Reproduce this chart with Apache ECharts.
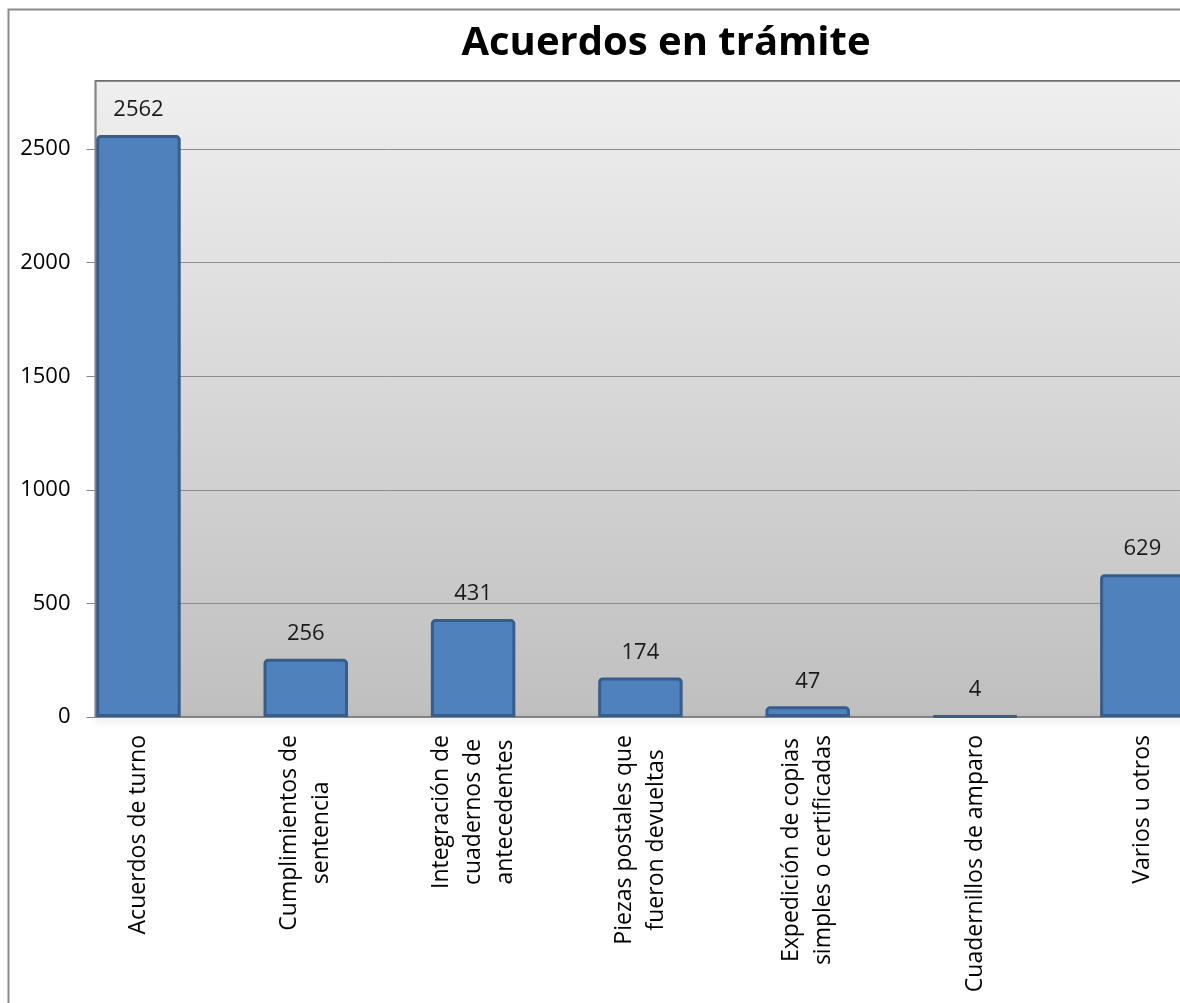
<!DOCTYPE html>
<html>
<head>
<meta charset="utf-8">
<script src="https://cdn.jsdelivr.net/npm/echarts@6/dist/echarts.min.js"></script>
<style>
  html, body { margin: 0; padding: 0; background: #fff; overflow: hidden; }
  /* la gráfica original está recortada por la derecha: el lienzo es más ancho que la ventana */
  #chart { width: 1290px; height: 1003px; }
</style>
</head>
<body>
<div id="chart"></div>
<script>
// categorías y valores
const categories = [
  'Acuerdos de turno',
  'Cumplimientos de\nsentencia',
  'Integración de\ncuadernos de\nantecedentes',
  'Piezas postales que\nfueron devueltas',
  'Expedición de copias\nsimples o certificadas',
  'Cuadernillos de amparo',
  'Varios u otros'
]
const values = [2562, 256, 431, 174, 47, 4, 629]
const yMin = 0
const yMax = 2800
const yStep = 500

const font = 'Open Sans'
// eje auxiliar: una marca en cada borde de barra
const edgeSlots = categories.flatMap(c => [c, c])

const chart = echarts.init(document.getElementById('chart'))
chart.setOption({
  backgroundColor: '#fff',
  animation: false,
  title: {
    text: 'Acuerdos en trámite',
    left: 661,
    textAlign: 'center',
    top: 19,
    textStyle: {
      fontFamily: font,
      fontSize: 40,
      fontWeight: 'bold',
      color: '#000'
    }
  },
  graphic: [{
    type: 'rect',
    left: 6,
    top: 7,
    shape: { width: 1400, height: 1100 },
    style: { fill: 'none', stroke: '#8c8c8c', lineWidth: 2 },
    z: 100
  }],
  grid: [{
    // barras
    left: 54.8,
    top: 81,
    width: 1171.2,
    bottom: 286
  }, {
    // área de trazado visible
    left: 95.5,
    top: 81,
    width: 1171,
    bottom: 286,
    show: true,
    borderColor: '#6e6e6e',
    borderWidth: 2,
    backgroundColor: new echarts.graphic.LinearGradient(0, 0, 0, 1, [
      { offset: 0, color: '#efefef' },
      { offset: 1, color: '#bfbfbf' }
    ])
  }],
  xAxis: [{
    type: 'category',
    gridIndex: 0,
    data: categories,
    axisLine: { show: false },
    axisTick: { show: false },
    axisLabel: {
      rotate: 90,
      margin: 18,
      interval: 0,
      color: '#000',
      fontFamily: font,
      fontSize: 23,
      formatter: v => v.split('\n').map(s => '{c|' + s + '}').join('\n'),
      rich: {
        c: { align: 'center', fontFamily: font, fontSize: 23, lineHeight: 32, color: '#000' }
      }
    }
  }, {
    type: 'category',
    gridIndex: 1,
    data: edgeSlots,
    axisLine: {
      lineStyle: {
        color: '#868686',
        width: 1.5,
        shadowColor: 'rgba(0,0,0,0.25)',
        shadowBlur: 6,
        shadowOffsetY: 3
      }
    },
    axisTick: { length: 9, lineStyle: { color: '#868686' } },
    axisLabel: { show: false }
  }],
  yAxis: [{
    type: 'value',
    gridIndex: 0,
    min: yMin,
    max: yMax,
    show: false
  }, {
    type: 'value',
    gridIndex: 1,
    min: yMin,
    max: yMax,
    interval: yStep,
    axisLine: { show: true, lineStyle: { color: '#868686' } },
    axisTick: { show: true, length: 9, lineStyle: { color: '#868686' } },
    axisLabel: {
      showMaxLabel: false,
      margin: 25,
      color: '#000',
      fontFamily: font,
      fontSize: 22,
      formatter: v => String(v)
    },
    splitLine: { lineStyle: { color: '#8c8c8c', width: 1 } }
  }],
  series: [{
    type: 'bar',
    xAxisIndex: 0,
    yAxisIndex: 0,
    data: values,
    barWidth: '50.5%',
    itemStyle: {
      color: '#4f81bd',
      borderColor: '#385d8a',
      borderWidth: 3,
      borderRadius: [3, 3, 0, 0]
    },
    label: {
      show: true,
      position: 'top',
      distance: 14,
      color: '#1a1a1a',
      fontFamily: font,
      fontSize: 22
    },
    z: 3
  }]
})
</script>
</body>
</html>
